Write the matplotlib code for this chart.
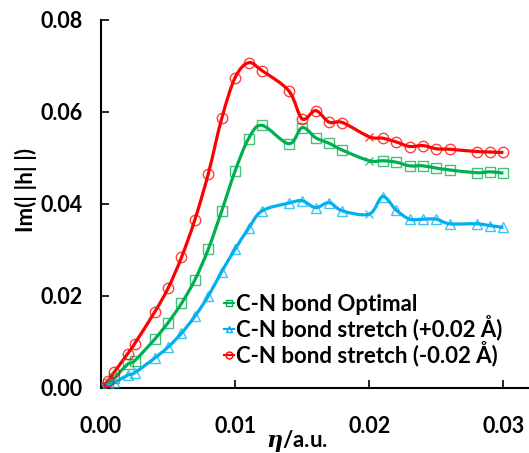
import matplotlib
matplotlib.use("Agg")
import matplotlib.pyplot as plt
import numpy as np
from matplotlib.lines import Line2D
from matplotlib.patches import PathPatch
from matplotlib.path import Path

plt.rcParams["font.family"] = ["Lato", "DejaVu Sans"]
plt.rcParams["mathtext.fontset"] = "custom"
plt.rcParams["mathtext.bfit"] = "DejaVu Serif:bold:italic"

eta = [0, 0.0005, 0.001, 0.002, 0.0025, 0.004, 0.005, 0.006, 0.007, 0.008,
       0.009, 0.010, 0.011, 0.012, 0.014, 0.015, 0.016, 0.017, 0.018, 0.020,
       0.021, 0.022, 0.023, 0.024, 0.025, 0.026, 0.028, 0.029, 0.030]

optimal = [0, 0.0008, 0.0022, 0.0052, 0.0059, 0.0106, 0.0142, 0.0184, 0.0235,
           0.0302, 0.0385, 0.0472, 0.0542, 0.0571, 0.0531, 0.0566, 0.0544,
           0.0532, 0.0517, 0.0494, 0.0494, 0.0491, 0.0483, 0.0483, 0.0478,
           0.0474, 0.0468, 0.0470, 0.0467]

stretch_plus = [0, 0.0005, 0.0012, 0.0028, 0.0033, 0.0065, 0.0089, 0.0119,
                0.0156, 0.0200, 0.0253, 0.0302, 0.0347, 0.0385, 0.0402, 0.0407,
                0.0392, 0.0403, 0.0385, 0.0378, 0.0416, 0.0387, 0.0367, 0.0367,
                0.0367, 0.0357, 0.0357, 0.0353, 0.0349]

stretch_minus = [0, 0.0015, 0.0035, 0.0075, 0.0096, 0.0165, 0.0217, 0.0284,
                 0.0366, 0.0466, 0.0586, 0.0675, 0.0707, 0.0690, 0.0646, 0.0585,
                 0.0603, 0.0578, 0.0577, 0.0546, 0.0543, 0.0535, 0.0525, 0.0527,
                 0.0520, 0.0519, 0.0514, 0.0513, 0.0512]

labels = ["C-N bond Optimal", "C-N bond stretch (+0.02 Å)", "C-N bond stretch (-0.02 Å)"]
CROSS_AT = 0.020


def smooth_path(x, y):
    # Catmull-Rom style Bezier segments through every point
    pts = np.column_stack([x, y]).astype(float)
    verts = [pts[0]]
    codes = [Path.MOVETO]
    n = len(pts)
    for i in range(n - 1):
        p0 = pts[i - 1] if i > 0 else pts[i]
        p1 = pts[i]
        p2 = pts[i + 1]
        p3 = pts[i + 2] if i + 2 < n else pts[i + 1]
        c1 = p1 + (p2 - p0) / 6.0
        c2 = p2 - (p3 - p1) / 6.0
        verts += [c1, c2, p2]
        codes += [Path.CURVE4] * 3
    return Path(verts, codes)


fig = plt.figure(figsize=(5.29, 4.53), dpi=100)
ax = fig.add_axes([101 / 529, 65 / 453, 428 / 529, 368 / 453])

series = [
    (optimal, "#00B050", "s", 6.5),
    (stretch_plus, "#00B0F0", "^", 6.5),
    (stretch_minus, "#FF0000", "o", 7.5),
]

handles = []
cross_idx = eta.index(CROSS_AT)
for (vals, color, marker, ms), label in zip(series, labels):
    ax.add_patch(PathPatch(smooth_path(eta, vals), facecolor="none",
                           edgecolor=color, lw=2.3, zorder=2))
    keep = [i for i in range(len(eta)) if i != cross_idx]
    ax.plot(np.array(eta)[keep], np.array(vals)[keep], ls="none",
            marker=marker, ms=ms, mfc="none", mec=color, mew=1.0,
            alpha=0.75, zorder=3)
    ax.plot([eta[cross_idx]], [vals[cross_idx]], ls="none", marker="x",
            ms=6, mec=color, mew=1.0, alpha=0.75, zorder=3)
    handles.append(Line2D([], [], color=color, lw=1.5, marker=marker, ms=5,
                          mfc="none", mec=color, mew=1.0))

ax.set_xlim(0, (529 - 100.5) / 13430)
ax.set_ylim(0, 0.08)
ax.set_xticks([0, 0.01, 0.02, 0.03])
ax.set_yticks([0, 0.02, 0.04, 0.06, 0.08])
ax.xaxis.set_major_formatter(matplotlib.ticker.FormatStrFormatter("%.2f"))
ax.yaxis.set_major_formatter(matplotlib.ticker.FormatStrFormatter("%.2f"))
ax.tick_params(direction="in", length=6, width=1.2, labelsize=15.5)
ax.tick_params(axis="y", pad=13)
ax.tick_params(axis="x", pad=20)
for lab in ax.get_xticklabels() + ax.get_yticklabels():
    lab.set_fontweight("bold")

ax.spines["top"].set_visible(False)
ax.spines["right"].set_visible(False)
ax.spines["left"].set_linewidth(1.5)
ax.spines["bottom"].set_linewidth(1.5)

fig.text(26 / 529, 1 - 190 / 453, "Im(| |h| |)", rotation=90, ha="center",
         va="center", fontsize=16, fontweight="bold")
fig.text(297 / 529, 1 - 441 / 453, r"$\boldsymbol{\eta}$/a.u.", ha="center",
         va="center", fontsize=16, fontweight="bold")

ax.legend(handles, labels, loc="upper left", bbox_to_anchor=(224 / 529, 1 - 294 / 453),
          bbox_transform=fig.transFigure, frameon=False, handlelength=0.45,
          handletextpad=0.1, labelspacing=0.0, borderaxespad=0, borderpad=0,
          prop={"size": 16, "weight": "bold"})

fig.savefig("out.png", dpi=100)
